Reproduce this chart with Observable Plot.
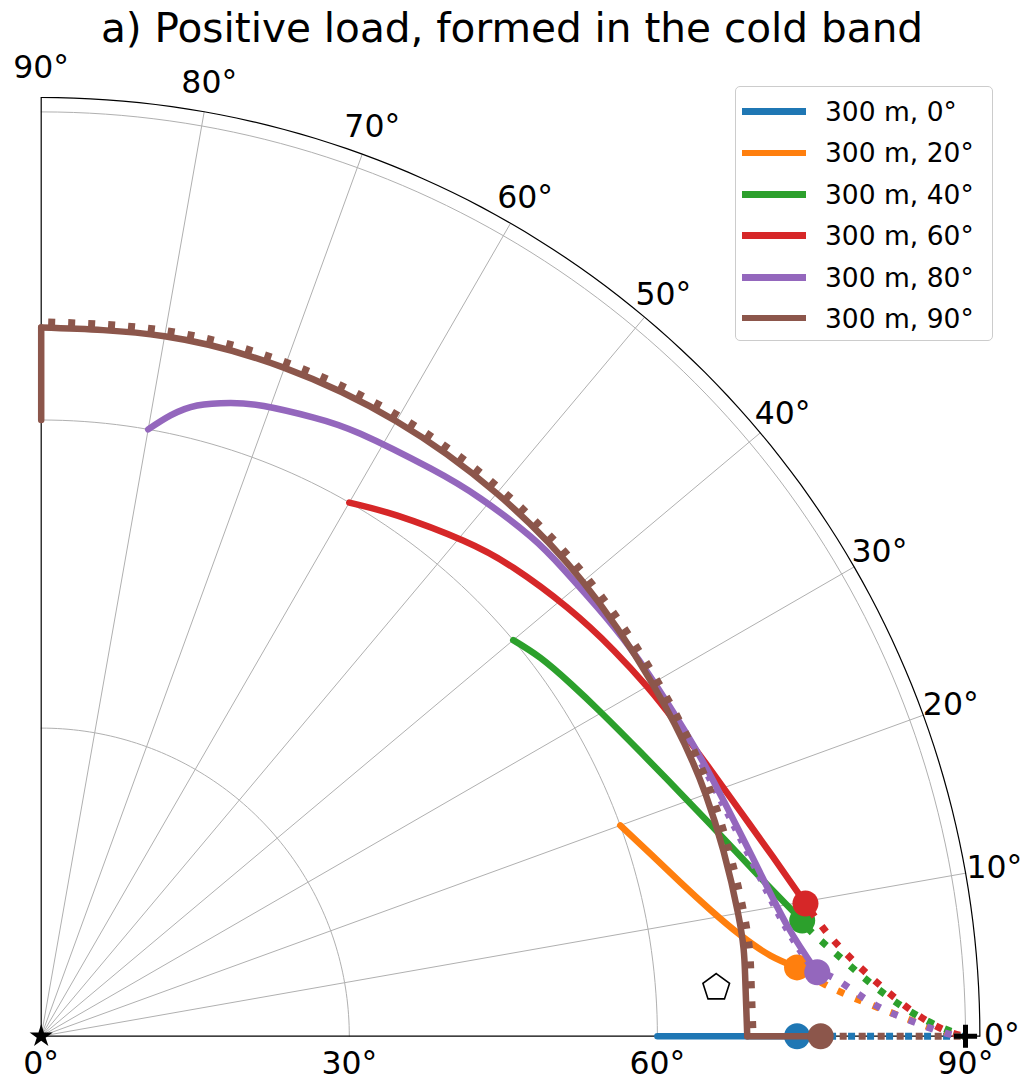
<!DOCTYPE html>
<html>
<head>
<meta charset="utf-8">
<script src="https://cdn.jsdelivr.net/npm/d3@7"></script>
<script src="https://cdn.jsdelivr.net/npm/@observablehq/plot@0.6"></script>
<style>
  html, body { margin: 0; padding: 0; background: #fff; }
  #chart { position: relative; width: 1023px; height: 1081px; font-family: "DejaVu Sans", sans-serif; }
  #legend {
    position: absolute; left: 735px; top: 86px; width: 258px; height: 255px;
    box-sizing: border-box; border: 1px solid #cccccc; border-radius: 5px;
    background: rgba(255,255,255,0.85);
  }
  .item { position: absolute; left: 6px; height: 40px; display: flex; align-items: center; }
  .swatch { width: 64px; height: 6.5px; margin-right: 19px; }
  .label { font-size: 26.5px; color: #000; white-space: nowrap; }
</style>
</head>
<body>
<div id="chart"></div>
<script>
// Series: launch azimuth of each 300 m trajectory, its label and colour
const seriesNames = ["300 m, 0°", "300 m, 20°", "300 m, 40°", "300 m, 60°", "300 m, 80°", "300 m, 90°"];
const seriesColors = ["#1f77b4", "#ff7f0e", "#2ca02c", "#d62728", "#9467bd", "#8c564b"];

// Polar ticks (degrees)
const angleTicks = [0, 10, 20, 30, 40, 50, 60, 70, 80, 90];
const radialTicks = [0, 30, 60, 90];
const radialGrid = [30, 60, 90];
const rMax = 91.4;

// Solid paths inside the cold band, as [theta, r] pairs
const blueSolid = [[0, 60], [0, 73.6]];
const orangeSolid = [[20, 60], [16.66, 61.93], [13.53, 64.02], [10.68, 66.32], [8.22, 68.8], [6.31, 71.44], [5.2, 73.9]];
const greenSolid = [[40, 60], [37.15, 60.99], [33.68, 61.93], [30.1, 62.95], [25.37, 64.58], [20.81, 66.59], [16.48, 68.98], [12.43, 71.72], [8.64, 74.95]];
const redSolid = [[60, 60], [55.61, 61.42], [49.55, 63.39], [44.76, 64.77], [39.14, 66.08], [34.0, 67.22], [29.93, 68.12], [26.6, 68.85], [22.09, 70.02], [17.8, 71.52], [13.83, 73.33], [9.85, 75.53]];
const purpleSolid = [[80, 60], [78.23, 61.74], [76.11, 63.26], [73.36, 64.35], [70.54, 65.08], [66.22, 65.83], [62.08, 66.39], [55.56, 67.03], [50.75, 67.61], [45.6, 68.1], [41.77, 68.22], [37.66, 68.38], [33.34, 68.69], [28.06, 69.07], [22.91, 69.7], [19.06, 70.29], [13.59, 71.56], [8.44, 73.43], [4.71, 75.82]];
const brownStem = [[90, 60], [90, 69.0]];
const brownArc = [[90, 69.0], [80, 69.2], [70, 69.25], [60, 69.15], [50, 69.0], [40, 68.85], [30, 68.7], [20, 68.85], [10, 68.9], [5, 68.8], [0, 68.75]];
const brownBase = [[0, 68.75], [0, 75.9]];

// Dotted continuations after leaving the band, ending at the horizon
const blueDotted = [[0, 73.6], [0, 90]];
const orangeDotted = [[5.2, 73.9], [3.77, 76.5], [2.44, 80.0], [1.38, 83.5], [0.41, 87.25], [0, 90]];
const greenDotted = [[8.64, 74.95], [7.5, 75.9], [5.39, 78.5], [3.48, 81.2], [1.7, 84.5], [0.57, 87.6], [0, 90]];
const redDotted = [[9.85, 75.53], [7.47, 77.2], [5.2, 79.55], [3.22, 82.2], [1.47, 85.2], [0.36, 88.05], [0, 90]];
const purpleDotted = [[4.71, 75.82], [4.05, 77.7], [2.35, 80.8], [1.15, 84.2], [0.22, 87.9], [0, 90]];
const brownDotted = [[0, 75.9], [0, 90]];
// dotted 80° track running alongside its descent
const purpleTrack = [[28.06, 68.75], [22.91, 69.38], [19.06, 69.97], [13.59, 71.24], [8.44, 73.11], [4.71, 75.5]];

// Reference markers: origin, observer and horizon point
const origin = [[0, 0]];
const observer = [[4.12, 65.9]];
const horizon = [[0, 90]];

const solids = [[blueSolid], [orangeSolid], [greenSolid], [redSolid], [purpleSolid], [brownStem, brownArc, brownBase]];
const dotteds = [blueDotted, orangeDotted, greenDotted, redDotted, purpleDotted, brownDotted];
const endPoints = [blueSolid, orangeSolid, greenSolid, redSolid, purpleSolid, brownBase].map((s) => s[s.length - 1]);
const dotOffsets = [6, 10, 10, 10, 10, 0];

const rad = Math.PI / 180;
const px = (p) => p[1] * Math.cos(p[0] * rad);
const py = (p) => p[1] * Math.sin(p[0] * rad);

// Grid arcs sampled along theta
const arcRows = (r) => d3.range(0, 90.5, 1).map((t) => [t, r]);

// Pentagon symbol for the observer marker
const pentagon = {
  draw(context, size) {
    const R = Math.sqrt(size / Math.PI);
    for (let k = 0; k < 5; ++k) {
      const a = (-90 + 72 * k) * rad;
      const x = R * Math.cos(a), y = R * Math.sin(a);
      if (k === 0) context.moveTo(x, y); else context.lineTo(x, y);
    }
    context.closePath();
  }
};

const font = "DejaVu Sans";
const tickFont = 31.5;
const lineWidth = 6.5;

const marks = [
  // radial grid arcs
  ...radialGrid.map((r) => Plot.line(arcRows(r), {x: px, y: py, stroke: "#b0b0b0", strokeWidth: 1})),
  // angular grid lines
  Plot.link(angleTicks.filter((t) => t > 0 && t < 90), {
    x1: 0, y1: 0,
    x2: (t) => rMax * Math.cos(t * rad), y2: (t) => rMax * Math.sin(t * rad),
    stroke: "#b0b0b0", strokeWidth: 1
  }),
  // outer boundary and the two straight spines
  Plot.line(arcRows(rMax), {x: px, y: py, stroke: "#000", strokeWidth: 1.2}),
  Plot.link([[0, rMax], [90, rMax]], {x1: 0, y1: 0, x2: px, y2: py, stroke: "#000", strokeWidth: 1.2})
];

solids.forEach((parts, i) => {
  const color = seriesColors[i];
  if (i === 5) {
    // ticked boundary drawn just outside the brown path
    marks.push(Plot.line(brownArc, {
      x: (p) => (p[1] + 0.57) * Math.cos(p[0] * rad),
      y: (p) => (p[1] + 0.57) * Math.sin(p[0] * rad),
      curve: "natural",
      stroke: color, strokeWidth: 7, strokeDasharray: "7 13", strokeDashoffset: -7, strokeLinecap: "butt"
    }));
  }
  if (i === 4) {
    marks.push(Plot.line(purpleTrack, {
      x: px, y: py, curve: "natural", stroke: color, strokeWidth: 5,
      strokeDasharray: "5 9", strokeLinecap: "butt"
    }));
  }
  parts.forEach((pts) => {
    marks.push(Plot.line(pts, {
      x: px, y: py, stroke: color, strokeWidth: lineWidth,
      curve: pts.length > 2 ? "natural" : "linear"
    }));
  });
  marks.push(Plot.line(dotteds[i], {
    x: px, y: py, stroke: color, strokeWidth: 7, curve: "natural",
    strokeDasharray: "7 12", strokeDashoffset: dotOffsets[i], strokeLinecap: "butt"
  }));
  marks.push(Plot.dot([endPoints[i]], {x: px, y: py, r: 13, fill: color}));
});

marks.push(
  Plot.dot(origin, {x: px, y: py, symbol: "star", r: 7.3, fill: "#000"}),
  Plot.dot(observer, {x: px, y: py, symbol: pentagon, r: 14, fill: "none", stroke: "#000", strokeWidth: 1.6}),
  Plot.dot(horizon, {x: px, y: py, symbol: "plus", r: 7.5, stroke: "#000", strokeWidth: 5}),
  // azimuth labels round the outside
  Plot.text(angleTicks, {
    x: (t) => (t === 0 ? 93.55 : 94.25) * Math.cos(t * rad),
    y: (t) => (t === 0 ? 93.55 : 94.25) * Math.sin(t * rad),
    text: (t) => `${t}°`, fontSize: tickFont, fontFamily: font, fill: "#000"
  }),
  // radial labels under the base line
  Plot.text(radialTicks, {x: (r) => r, y: 0, dy: 28, text: (r) => `${r}°`, fontSize: tickFont, fontFamily: font, fill: "#000"}),
  // title
  Plot.text(["a) Positive load, formed in the cold band"], {
    frameAnchor: "top", dy: 13, text: (d) => d, fontSize: 40.6, fontFamily: font, fill: "#000"
  })
);

const chart = Plot.plot({
  width: 1023,
  height: 1081,
  margin: 0,
  x: {type: "linear", domain: [0, 90], range: [40.7, 40.7 + 924.3], axis: null},
  y: {type: "linear", domain: [0, 90], range: [1035.7, 1035.7 - 924.3], axis: null},
  style: {background: "#fff", fontFamily: font, overflow: "visible"},
  marks
});

const host = document.getElementById("chart");
host.appendChild(chart);

// Legend: a short line swatch per series
const legend = document.createElement("div");
legend.id = "legend";
const rowCenters = [24.5, 65.8, 107.3, 148.3, 190.3, 231];
seriesNames.forEach((name, i) => {
  const item = document.createElement("div");
  item.className = "item";
  item.style.top = (rowCenters[i] - 20) + "px";
  const sw = document.createElement("div");
  sw.className = "swatch";
  sw.style.background = seriesColors[i];
  const lb = document.createElement("span");
  lb.className = "label";
  lb.textContent = name;
  item.appendChild(sw);
  item.appendChild(lb);
  legend.appendChild(item);
});
host.appendChild(legend);
</script>
</body>
</html>
